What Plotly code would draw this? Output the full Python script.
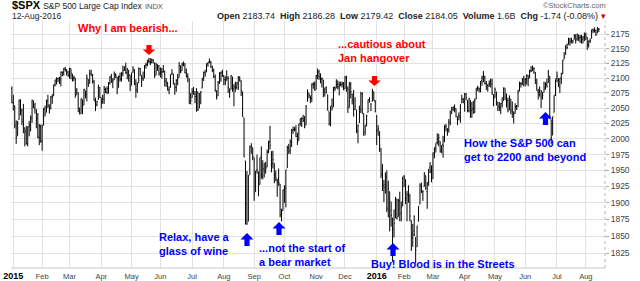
import math
import plotly.graph_objects as go

# ---------------- data ----------------
# month tick labels (first bar is 31-Dec-2014, then daily bars to 12-Aug-2016)
month_labels = ["2015", "Feb", "Mar", "Apr", "May", "Jun", "Jul", "Aug", "Sep", "Oct", "Nov", "Dec",
                "2016", "Feb", "Mar", "Apr", "May", "Jun", "Jul", "Aug"]
month_days = [20, 19, 22, 21, 20, 22, 22, 21, 21, 22, 20, 22, 19, 20, 22, 21, 21, 22, 20, 10]
year_labels = ["2015", "2016"]
y_ticks = [1825, 1850, 1875, 1900, 1925, 1950, 1975, 2000, 2025, 2050, 2075, 2100, 2125, 2150, 2175]

opens = [
    2082,
    2059, 2054, 2022, 2005, 2031, 2064, 2047, 2031, 2018, 2013, 1992, 2020, 2021, 2034, 2062, 2050, 2048, 2033, 2003, 2019,
    1997, 2022, 2048, 2043, 2062, 2053, 2049, 2068, 2070, 2089, 2096, 2099, 2099, 2097, 2110, 2109, 2115, 2114, 2110,
    2105, 2116, 2107, 2100, 2100, 2072, 2076, 2045, 2041, 2064, 2055, 2079, 2072, 2098, 2091, 2107, 2104, 2094, 2060, 2055, 2064, 2084,
    2067, 2060, 2064, 2081, 2076, 2082, 2092, 2102, 2093, 2097, 2105, 2102, 2084, 2103, 2099, 2107, 2113, 2120, 2108, 2112, 2105,
    2088, 2110, 2113, 2091, 2079, 2092, 2116, 2103, 2100, 2100, 2122, 2122, 2129, 2128, 2126, 2130, 2125, 2105, 2122, 2121,
    2109, 2110, 2111, 2112, 2095, 2093, 2080, 2084, 2106, 2107, 2091, 2084, 2097, 2101, 2121, 2112, 2124, 2124, 2109, 2103, 2099, 2062,
    2067, 2078, 2073, 2069, 2077, 2050, 2057, 2083, 2101, 2109, 2110, 2124, 2127, 2126, 2118, 2114, 2102, 2079, 2070, 2093, 2108, 2111,
    2104, 2097, 2096, 2100, 2082, 2081, 2102, 2082, 2085, 2084, 2090, 2101, 2095, 2077, 2034, 1965, 1898, 1872, 1943, 1987, 1986,
    1970, 1917, 1950, 1948, 1928, 1972, 1941, 1951, 1963, 1955, 1979, 1995, 1980, 1961, 1961, 1943, 1935, 1935, 1929, 1882, 1888,
    1919, 1922, 1954, 1986, 1982, 1994, 2014, 2015, 2015, 2004, 1997, 2025, 2031, 2033, 2033, 2022, 2061, 2075, 2068, 2066, 2089, 2090,
    2081, 2102, 2111, 2101, 2098, 2097, 2077, 2084, 2072, 2044, 2023, 2054, 2052, 2084, 2083, 2089, 2085, 2089, 2089, 2090,
    2082, 2101, 2082, 2051, 2090, 2073, 2061, 2048, 2047, 2013, 2026, 2047, 2074, 2041, 2011, 2024, 2043, 2063, 2057, 2061, 2077, 2061,
    2038, 2014, 2012, 1985, 1946, 1927, 1928, 1941, 1892, 1917, 1888, 1877, 1861, 1877, 1906, 1879, 1903, 1885, 1895,
    1937, 1936, 1907, 1911, 1913, 1873, 1848, 1857, 1848, 1834, 1872, 1898, 1928, 1917, 1925, 1942, 1917, 1932, 1955, 1946,
    1937, 1975, 1985, 1994, 1996, 1996, 1982, 1991, 1995, 2019, 2016, 2015, 2026, 2041, 2048, 2048, 2049, 2032, 2038, 2035, 2059, 2064,
    2057, 2073, 2063, 2046, 2063, 2046, 2050, 2043, 2065, 2083, 2083, 2078, 2096, 2100, 2102, 2091, 2089, 2090, 2093, 2090, 2071,
    2067, 2077, 2060, 2053, 2047, 2057, 2062, 2083, 2068, 2062, 2047, 2065, 2045, 2044, 2041, 2052, 2052, 2078, 2091, 2090, 2101,
    2093, 2097, 2104, 2100, 2112, 2112, 2116, 2110, 2091, 2077, 2078, 2068, 2076, 2076, 2085, 2089, 2092, 2103, 2031, 2006, 2043, 2073,
    2099, 2096, 2084, 2100, 2107, 2132, 2140, 2156, 2157, 2165, 2163, 2164, 2166, 2172, 2167, 2174, 2169, 2170, 2166, 2169,
    2174, 2169, 2156, 2163, 2168, 2183, 2182, 2182, 2177, 2184,
]
highs = [
    2086,
    2072, 2054, 2030, 2029, 2064, 2064, 2049, 2057, 2018, 2021, 2020, 2029, 2038, 2064, 2062, 2058, 2048, 2042, 2024, 2023,
    2023, 2050, 2054, 2064, 2072, 2056, 2070, 2073, 2089, 2097, 2101, 2100, 2102, 2111, 2111, 2117, 2119, 2115, 2112,
    2117, 2116, 2107, 2104, 2100, 2083, 2076, 2051, 2066, 2064, 2082, 2079, 2106, 2098, 2114, 2114, 2107, 2097, 2067, 2062, 2089, 2085,
    2067, 2072, 2087, 2084, 2086, 2093, 2103, 2107, 2100, 2111, 2108, 2102, 2104, 2109, 2110, 2121, 2120, 2126, 2117, 2114, 2105,
    2109, 2120, 2115, 2098, 2093, 2118, 2117, 2105, 2111, 2122, 2126, 2131, 2134, 2134, 2133, 2132, 2126, 2126, 2123, 2122,
    2118, 2117, 2122, 2112, 2100, 2093, 2086, 2106, 2115, 2107, 2091, 2098, 2107, 2127, 2121, 2126, 2128, 2125, 2116, 2108, 2099, 2075,
    2083, 2085, 2078, 2083, 2077, 2075, 2078, 2100, 2111, 2114, 2125, 2127, 2133, 2129, 2121, 2116, 2106, 2079, 2095, 2110, 2111, 2114,
    2105, 2103, 2113, 2103, 2082, 2105, 2102, 2090, 2094, 2093, 2103, 2103, 2096, 2077, 2034, 1965, 1949, 1943, 1989, 1993, 1986,
    1970, 1949, 1975, 1948, 1970, 1988, 1966, 1961, 1963, 1983, 1997, 2021, 1980, 1981, 1961, 1950, 1937, 1953, 1929, 1891, 1920,
    1927, 1951, 1989, 1992, 1999, 2016, 2020, 2019, 2022, 2010, 2024, 2033, 2035, 2039, 2037, 2055, 2081, 2075, 2071, 2091, 2093, 2094,
    2105, 2116, 2114, 2108, 2101, 2097, 2084, 2086, 2072, 2044, 2053, 2066, 2085, 2086, 2098, 2096, 2094, 2094, 2094, 2093,
    2103, 2104, 2086, 2093, 2093, 2074, 2080, 2068, 2047, 2023, 2054, 2077, 2076, 2041, 2022, 2039, 2064, 2068, 2057, 2082, 2077, 2063,
    2038, 2022, 2012, 1985, 1960, 1935, 1947, 1950, 1934, 1917, 1902, 1877, 1890, 1909, 1906, 1906, 1917, 1902, 1940,
    1943, 1936, 1918, 1927, 1913, 1873, 1868, 1881, 1848, 1865, 1895, 1930, 1931, 1919, 1947, 1942, 1932, 1952, 1963, 1958,
    1978, 1986, 1993, 2009, 2008, 1996, 1990, 2005, 2022, 2024, 2017, 2032, 2046, 2052, 2053, 2056, 2049, 2036, 2043, 2056, 2072, 2067,
    2075, 2075, 2063, 2067, 2063, 2060, 2062, 2066, 2083, 2087, 2084, 2095, 2104, 2112, 2104, 2095, 2089, 2096, 2099, 2099, 2073,
    2084, 2077, 2060, 2060, 2058, 2068, 2084, 2083, 2074, 2067, 2071, 2065, 2061, 2044, 2058, 2055, 2080, 2094, 2093, 2100, 2104,
    2100, 2106, 2105, 2114, 2120, 2121, 2118, 2110, 2099, 2082, 2086, 2080, 2076, 2094, 2093, 2099, 2113, 2103, 2031, 2036, 2071, 2098,
    2111, 2100, 2100, 2109, 2131, 2144, 2156, 2159, 2169, 2169, 2169, 2164, 2175, 2175, 2176, 2174, 2174, 2174, 2172, 2178,
    2178, 2170, 2164, 2168, 2183, 2185, 2187, 2183, 2188, 2186,
]
lows = [
    2058,
    2046, 2017, 1992, 2005, 2031, 2038, 2022, 2009, 1988, 1991, 1988, 2004, 2012, 2026, 2050, 2041, 2017, 2001, 1990, 1994,
    1981, 2022, 2036, 2043, 2050, 2041, 2048, 2057, 2070, 2086, 2089, 2093, 2090, 2086, 2103, 2104, 2111, 2104, 2102,
    2099, 2098, 2094, 2095, 2067, 2072, 2044, 2040, 2041, 2040, 2055, 2066, 2061, 2085, 2091, 2104, 2091, 2062, 2045, 2053, 2064, 2067,
    2049, 2057, 2057, 2075, 2073, 2074, 2089, 2092, 2083, 2097, 2100, 2073, 2084, 2094, 2094, 2103, 2112, 2107, 2098, 2094, 2078,
    2088, 2109, 2088, 2067, 2075, 2092, 2104, 2085, 2095, 2100, 2116, 2120, 2125, 2122, 2125, 2125, 2100, 2105, 2112, 2104,
    2101, 2099, 2109, 2086, 2085, 2079, 2073, 2084, 2106, 2089, 2072, 2077, 2088, 2101, 2108, 2112, 2120, 2108, 2101, 2093, 2057, 2056,
    2067, 2072, 2058, 2044, 2045, 2050, 2057, 2083, 2095, 2102, 2110, 2119, 2125, 2117, 2110, 2100, 2077, 2064, 2070, 2090, 2094, 2102,
    2088, 2088, 2096, 2075, 2067, 2081, 2077, 2053, 2077, 2081, 2080, 2094, 2070, 2036, 1971, 1867, 1867, 1872, 1943, 1976, 1966,
    1903, 1917, 1945, 1910, 1928, 1937, 1936, 1939, 1945, 1955, 1977, 1983, 1947, 1953, 1930, 1933, 1909, 1926, 1878, 1872, 1888,
    1900, 1893, 1954, 1976, 1976, 1987, 2008, 2012, 2003, 1990, 1997, 2021, 2019, 2027, 2017, 2022, 2061, 2066, 2058, 2060, 2082, 2079,
    2081, 2098, 2097, 2091, 2084, 2068, 2069, 2074, 2046, 2022, 2020, 2046, 2052, 2078, 2083, 2081, 2071, 2086, 2084, 2080,
    2082, 2077, 2042, 2051, 2066, 2056, 2036, 2047, 2009, 1993, 2026, 2042, 2041, 2005, 2006, 2020, 2043, 2059, 2045, 2061, 2062, 2043,
    1990, 2005, 1979, 1938, 1918, 1901, 1914, 1886, 1878, 1857, 1864, 1812, 1848, 1877, 1875, 1879, 1872, 1872, 1895,
    1924, 1898, 1872, 1900, 1872, 1828, 1834, 1850, 1810, 1834, 1872, 1898, 1915, 1903, 1925, 1920, 1891, 1926, 1946, 1932,
    1937, 1969, 1978, 1991, 1988, 1978, 1977, 1970, 1995, 2012, 2005, 2010, 2022, 2041, 2045, 2043, 2035, 2022, 2030, 2026, 2058, 2058,
    2044, 2063, 2043, 2043, 2034, 2034, 2041, 2042, 2065, 2078, 2076, 2076, 2087, 2093, 2089, 2080, 2077, 2085, 2084, 2072, 2053,
    2067, 2054, 2045, 2045, 2040, 2051, 2062, 2064, 2051, 2043, 2047, 2040, 2034, 2025, 2041, 2047, 2052, 2078, 2084, 2088, 2086,
    2086, 2089, 2086, 2100, 2110, 2112, 2107, 2090, 2079, 2064, 2069, 2050, 2064, 2076, 2080, 2084, 2092, 2032, 1992, 2006, 2043, 2070,
    2093, 2085, 2075, 2090, 2107, 2132, 2140, 2149, 2157, 2155, 2159, 2159, 2166, 2159, 2164, 2163, 2160, 2159, 2159, 2163,
    2165, 2148, 2152, 2160, 2168, 2177, 2178, 2172, 2177, 2179,
]
closes = [
    2059,
    2058, 2021, 2003, 2026, 2062, 2045, 2028, 2023, 2011, 1992, 2019, 2022, 2032, 2063, 2051, 2057, 2029, 2002, 2021, 1995,
    2021, 2050, 2041, 2062, 2055, 2046, 2068, 2068, 2088, 2097, 2100, 2100, 2097, 2110, 2110, 2116, 2114, 2110, 2105,
    2117, 2108, 2099, 2101, 2071, 2080, 2044, 2040, 2066, 2053, 2081, 2075, 2100, 2089, 2108, 2104, 2092, 2062, 2056, 2061, 2086, 2068,
    2060, 2067, 2081, 2076, 2082, 2092, 2102, 2093, 2096, 2106, 2105, 2081, 2101, 2098, 2108, 2113, 2117, 2109, 2115, 2106, 2086,
    2108, 2115, 2089, 2081, 2088, 2116, 2105, 2099, 2098, 2121, 2123, 2129, 2128, 2126, 2131, 2126, 2104, 2123, 2121, 2107,
    2112, 2110, 2114, 2095, 2092, 2080, 2081, 2105, 2108, 2094, 2084, 2096, 2100, 2121, 2110, 2122, 2124, 2109, 2102, 2102, 2058, 2063,
    2077, 2077, 2069, 2081, 2047, 2052, 2077, 2100, 2109, 2107, 2124, 2127, 2129, 2120, 2114, 2102, 2080, 2068, 2093, 2109, 2109, 2104,
    2098, 2094, 2100, 2084, 2078, 2104, 2084, 2086, 2084, 2092, 2102, 2097, 2079, 2036, 1971, 1893, 1868, 1940, 1988, 1989, 1972,
    1914, 1949, 1951, 1921, 1970, 1943, 1953, 1961, 1953, 1979, 1996, 1990, 1958, 1967, 1943, 1938, 1932, 1931, 1882, 1884, 1920,
    1923, 1951, 1987, 1980, 1996, 2014, 2015, 2017, 2004, 1994, 2024, 2033, 2033, 2030, 2019, 2052, 2075, 2071, 2066, 2090, 2089, 2079,
    2104, 2109, 2103, 2100, 2099, 2079, 2081, 2076, 2046, 2023, 2053, 2051, 2084, 2082, 2089, 2086, 2089, 2089, 2091, 2080,
    2102, 2080, 2050, 2092, 2077, 2064, 2048, 2053, 2012, 2022, 2044, 2073, 2041, 2006, 2022, 2038, 2064, 2061, 2057, 2078, 2063, 2044,
    2013, 2016, 1990, 1943, 1922, 1923, 1938, 1890, 1922, 1880, 1881, 1859, 1869, 1907, 1877, 1903, 1883, 1893, 1940,
    1940, 1904, 1913, 1915, 1880, 1854, 1852, 1851, 1829, 1865, 1895, 1926, 1918, 1918, 1946, 1922, 1929, 1952, 1948, 1932,
    1978, 1986, 1994, 1999, 2002, 1980, 1989, 1989, 2022, 2020, 2016, 2027, 2040, 2050, 2051, 2049, 2036, 2036, 2037, 2056, 2064, 2060,
    2073, 2067, 2045, 2066, 2042, 2048, 2041, 2062, 2083, 2083, 2081, 2094, 2100, 2102, 2091, 2092, 2088, 2091, 2095, 2075, 2065,
    2081, 2063, 2052, 2051, 2058, 2059, 2084, 2064, 2064, 2047, 2066, 2047, 2048, 2041, 2052, 2048, 2076, 2090, 2090, 2099, 2097,
    2099, 2105, 2099, 2110, 2112, 2119, 2116, 2096, 2079, 2075, 2072, 2077, 2071, 2083, 2089, 2086, 2113, 2037, 2001, 2036, 2071, 2099,
    2103, 2089, 2100, 2098, 2130, 2137, 2152, 2152, 2163, 2162, 2166, 2164, 2173, 2165, 2175, 2169, 2170, 2167, 2170, 2174,
    2171, 2157, 2164, 2164, 2183, 2181, 2182, 2175, 2186, 2184,
]

# ---------------- geometry ----------------
W, H = 640, 281
ML, MR, MT, MB = 11, 35, 21, 13
PW, PH = W - ML - MR, H - MT - MB


def pxx(x):
    return (x - ML) / PW


def pxy(y):
    return 1 - (y - MT) / PH


n = min(len(opens), len(highs), len(lows), len(closes))
xs = list(range(n))

tickpos = []
p = 1
for d in month_days:
    tickpos.append(p)
    p += d
ticktext = [("<span style='font-size:9px;color:#000'><b>%s</b></span>" % m) if m in year_labels else m
            for m in month_labels]

fig = go.Figure()
fig.add_trace(go.Ohlc(
    x=xs, open=opens[:n], high=highs[:n], low=lows[:n], close=closes[:n],
    increasing=dict(line=dict(color="#000000", width=1)),
    decreasing=dict(line=dict(color="#000000", width=1)),
    tickwidth=0.45, hoverinfo="skip", showlegend=False,
))

FONT = "Liberation Sans, Arial, sans-serif"
GRID = "#e2e2e2"

fig.update_layout(
    width=W, height=H,
    autosize=False,
    margin=dict(l=ML, r=MR, t=MT, b=MB, pad=0, autoexpand=False),
    paper_bgcolor="white", plot_bgcolor="white",
    font=dict(family=FONT, size=9, color="#333"),
    showlegend=False,
    xaxis=dict(
        type="linear", range=[-0.595, 411.3], automargin=False,
        tickmode="array", tickvals=tickpos, ticktext=ticktext,
        showgrid=True, gridcolor=GRID, gridwidth=1,
        zeroline=False, showline=False, ticks="",
        ticklabelstandoff=2,
        tickfont=dict(size=7.5, color="#444", family=FONT),
        rangeslider=dict(visible=False), fixedrange=True,
    ),
    yaxis=dict(
        type="log", side="right", automargin=False,
        range=[math.log10(1803.2), math.log10(2198.3)],
        tickmode="array", tickvals=y_ticks, ticktext=[str(v) for v in y_ticks],
        showgrid=True, gridcolor=GRID, gridwidth=1,
        zeroline=False, showline=False,
        ticks="outside", ticklen=3, tickcolor="#aaa",
        tickfont=dict(size=8.5, color="#444", family=FONT),
        fixedrange=True,
    ),
)

shapes = []
# plot borders: dotted right, solid bottom
shapes.append(dict(type="line", xref="paper", yref="paper", x0=1, x1=1, y0=0, y1=1,
                   line=dict(color="#b5b5b5", width=1, dash="dot")))
shapes.append(dict(type="line", xref="paper", yref="paper", x0=0, x1=1, y0=0, y1=0,
                   line=dict(color="#c8c8c8", width=1)))


def block_arrow(cx, ytop, ybot, down, color, hw=6.3, sw=2.6, head=5.5):
    if down:
        pts = [(cx - sw, ytop), (cx + sw, ytop), (cx + sw, ybot - head), (cx + hw, ybot - head),
               (cx, ybot), (cx - hw, ybot - head), (cx - sw, ybot - head)]
    else:
        pts = [(cx - sw, ybot), (cx + sw, ybot), (cx + sw, ytop + head), (cx + hw, ytop + head),
               (cx, ytop), (cx - hw, ytop + head), (cx - sw, ytop + head)]
    path = "M " + " L ".join("%.5f,%.5f" % (pxx(a), pxy(b)) for a, b in pts) + " Z"
    return dict(type="path", xref="paper", yref="paper", path=path,
                fillcolor=color, line=dict(color=color, width=0))


RED = "#ff0000"
BLUE = "#0000ff"
shapes.append(block_arrow(149, 45, 55, True, RED))
shapes.append(block_arrow(374.5, 76, 86, True, RED))
shapes.append(block_arrow(247, 233, 246, False, BLUE, hw=6.5, head=6.5))
shapes.append(block_arrow(279, 222, 235, False, BLUE, hw=6.5, head=6.5))
shapes.append(block_arrow(393, 243, 256, False, BLUE, hw=6.5, head=6.5))
shapes.append(block_arrow(545.5, 112, 125, False, BLUE, hw=6.5, head=6.5))
fig.update_layout(shapes=shapes)

annots = []


def note(x, y, text, color, size=11, anchor="left"):
    annots.append(dict(xref="paper", yref="paper", x=pxx(x), y=pxy(y), text=text,
                       showarrow=False, xanchor=anchor, yanchor="middle", borderpad=0,
                       font=dict(family=FONT, size=size, color=color)))


note(77, 28, "<b>Why I am bearish...</b>", RED)
note(337, 44, "<b>...cautious about</b>", RED)
note(337, 58, "<b>Jan hangover</b>", RED)
note(158, 237, "<b>Relax, have a</b>", BLUE)
note(158, 251, "<b>glass of wine</b>", BLUE)
note(258, 248, "<b>...not the start of</b>", BLUE)
note(258, 262, "<b>a bear market</b>", BLUE)
note(370, 264, "<b>Buy! Blood is in the Streets</b>", BLUE)
note(463, 142.5, "<b>How the S&amp;P 500 can</b>", BLUE)
note(463, 157, "<b>get to 2200 and beyond</b>", BLUE)

# header
note(11, 5.5, "<b>$SPX</b> <span style='font-size:8.5px;color:#222'>S&amp;P 500 Large Cap Index</span> "
              "<span style='font-size:7.5px;color:#555'>INDX</span>", "#000", size=11)
note(11, 16, "12-Aug-2016", "#222", size=8.5)
note(607, 16, "<b>Open</b> 2183.74  <b>High</b> 2186.28  <b>Low</b> 2179.42  <b>Close</b> 2184.05  "
              "<b>Volume</b> 1.6B  <b>Chg</b> -1.74 (-0.08%) <span style='color:#cc0000'>▾</span>",
     "#222", size=9, anchor="right")
note(607, 5, "©StockCharts.com", "#666", size=7.5, anchor="right")

fig.update_layout(annotations=annots)

fig.write_html("out.html", config={"responsive": False})
